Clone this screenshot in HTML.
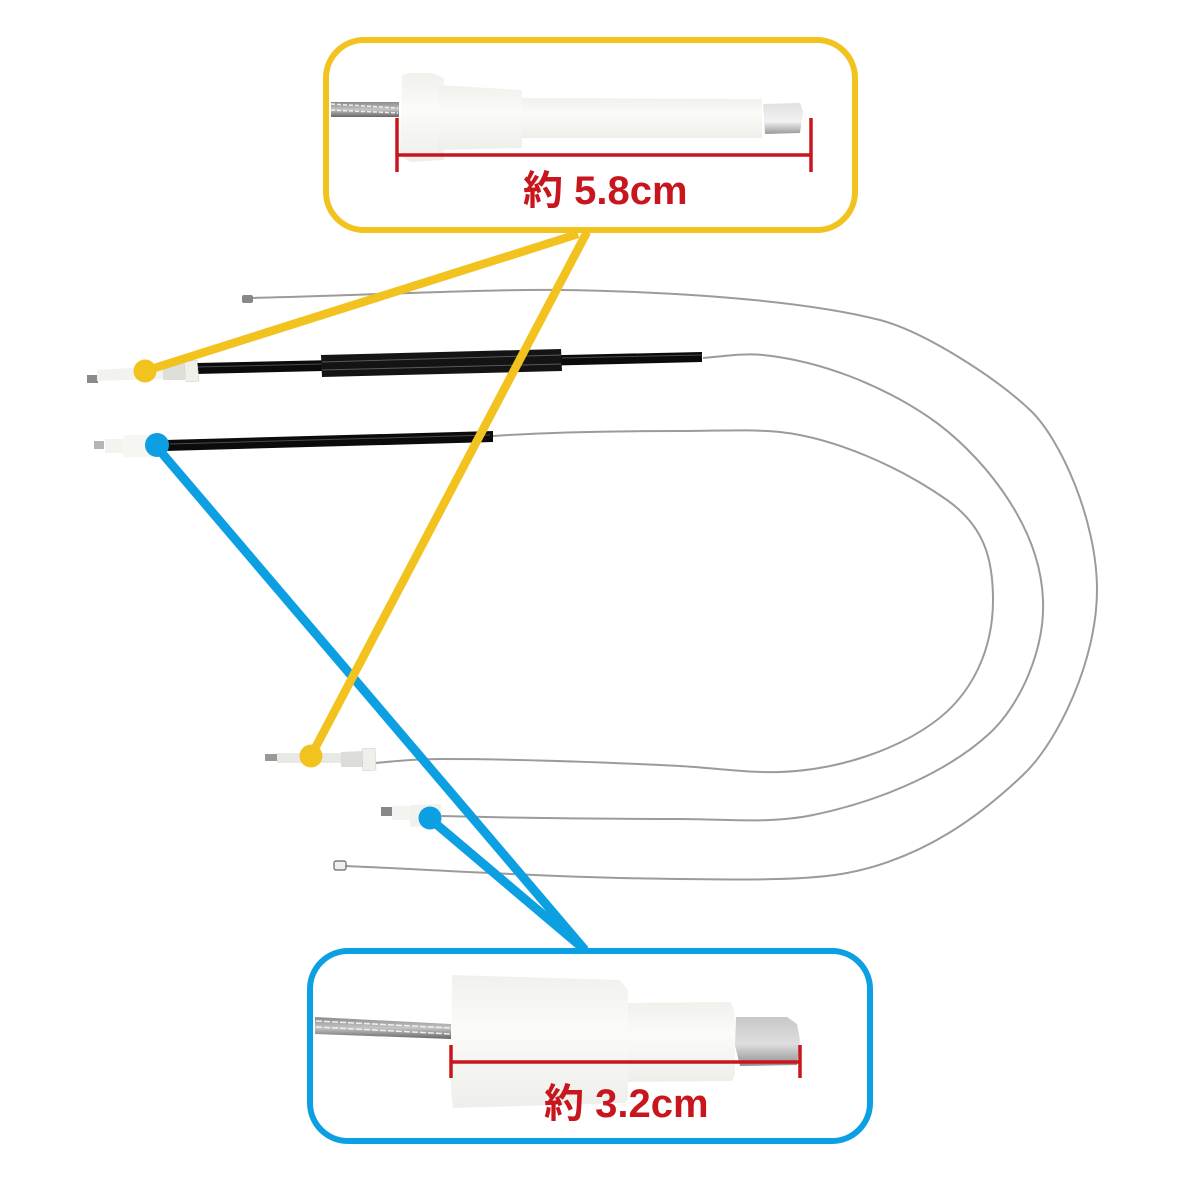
<!DOCTYPE html>
<html><head><meta charset="utf-8"><style>
html,body{margin:0;padding:0;background:#fff}
svg{display:block}
text{font-family:"Liberation Sans","Noto Sans CJK JP",sans-serif;font-weight:700;font-size:40px;fill:#c8161e}
</style></head><body>
<svg width="1182" height="1182" viewBox="0 0 1182 1182" xmlns="http://www.w3.org/2000/svg">
<defs>
<linearGradient id="w" x1="0" y1="0" x2="0" y2="1"><stop offset="0" stop-color="#f0f0ec"/><stop offset=".4" stop-color="#fbfbf8"/><stop offset="1" stop-color="#eeeeea"/></linearGradient>
<linearGradient id="n" x1="0" y1="0" x2="0" y2="1"><stop offset="0" stop-color="#c8c8c8"/><stop offset=".55" stop-color="#dedede"/><stop offset="1" stop-color="#8f8f8f"/></linearGradient>
<linearGradient id="n2" x1="0" y1="0" x2="0" y2="1"><stop offset="0" stop-color="#e0e0e0"/><stop offset=".6" stop-color="#f2f2f2"/><stop offset="1" stop-color="#999"/></linearGradient>
<linearGradient id="c" x1="0" y1="0" x2="0" y2="1"><stop offset="0" stop-color="#8a8a8a"/><stop offset=".5" stop-color="#c4c4c4"/><stop offset="1" stop-color="#666"/></linearGradient>
</defs>
<rect width="1182" height="1182" fill="#fff"/>

<!-- wires -->
<g fill="none" stroke="#9b9b9b" stroke-width="2">
<path d="M250 298 C350 296 480 289 560 290 C640 291 790 297 880 320 C925 332 995 377 1030 410 C1060 438 1097 520 1097 590 C1097 660 1058 742 1023 775 C982 814 925 858 847 873 C800 882 720 879 680 879 C560 878 440 870 345 866"/>
<path d="M703 358 C725 356 745 353 763 355 C820 361 880 384 930 418 C975 449 1040 520 1043 600 C1045 650 1020 705 990 733 C950 770 885 800 813 815 C770 824 720 819 680 819 C600 819 520 818 440 816"/>
<path d="M493 436 C550 432 620 431 680 431 C715 431 750 429 780 432 C835 438 900 467 947 500 C985 527 993 560 993 600 C993 650 972 695 933 723 C897 749 840 770 780 772 C745 773 715 768 680 766 C600 762 520 759 440 759 C415 759 395 761 376 763"/>
</g>

<!-- tube 1 -->
<path d="M196 363 L702 352 V362 L196 374 Z" fill="#0b0b0b"/>
<path d="M196 367 L322 364 M562 358 L702 355" stroke="#4a4a4a" stroke-width="1" fill="none"/>
<path d="M321 355 L561 349 L562 371 L322 377 Z" fill="#141414"/>
<path d="M322 362 L561 355 M322 370 L561 364" stroke="#5a5a5a" stroke-width="1" fill="none"/>
<!-- tube 2 -->
<path d="M165 440 L493 431 V442 L165 451 Z" fill="#0b0b0b"/>
<path d="M170 444 L490 435" stroke="#4a4a4a" stroke-width="1" fill="none"/>

<!-- connector 1 -->
<rect x="87" y="375" width="11" height="8" fill="#8a8a8a"/>
<path d="M97 370 L163 366 V379 L97 381 Z" fill="#f2f2ee"/>
<path d="M163 365 L185 363 V380 L163 380 Z" fill="#dfdfda"/>
<path d="M184 362 L197 360 L199 381 L186 382 Z" fill="#f0efea" stroke="#ccc" stroke-width=".5"/>
<!-- connector 2 -->
<rect x="94" y="441" width="10" height="8" fill="#b5b5b5"/>
<rect x="105" y="439" width="19" height="14" fill="#f3f3ef"/>
<rect x="123" y="435" width="30" height="22" rx="3" fill="#f6f6f2"/>
<!-- nut top -->
<rect x="242" y="295" width="11" height="8" rx="2" fill="#888"/>
<!-- connector 3 -->
<rect x="265" y="754" width="13" height="7" fill="#999"/>
<rect x="277" y="753" width="64" height="10" fill="#e8e8e4"/>
<path d="M341 752 L363 751 V767 L341 767 Z" fill="#dcdcd8"/>
<path d="M362 749 L375 748 L376 770 L363 771 Z" fill="#efefeb" stroke="#c8c8c8" stroke-width=".5"/>
<!-- connector 4 -->
<rect x="381" y="807" width="11" height="9" fill="#888"/>
<rect x="392" y="806" width="18" height="14" fill="#f3f3ef"/>
<path d="M410 805 L441 804 L442 826 L410 827 Z" fill="#f1f1ed"/>
<!-- nut bottom -->
<rect x="334" y="861" width="12" height="9" rx="2" fill="#efefef" stroke="#666" stroke-width="1.2"/>

<!-- blue connectors -->
<g fill="#0ca0e3" stroke="none">
<path d="M155 445 L585 950" stroke="#0ca0e3" stroke-width="9"/>
<path d="M429 818 L585 950" stroke="#0ca0e3" stroke-width="9"/>
<circle cx="157" cy="445" r="12"/>
<circle cx="430" cy="818" r="11.5"/>
</g>
<!-- yellow connectors -->
<g fill="#f2c21f">
<path d="M145 371 L578 234" stroke="#f2c21f" stroke-width="8.5"/>
<path d="M311 756 L587 232" stroke="#f2c21f" stroke-width="8.5"/>
<circle cx="145" cy="371" r="11.5"/>
<circle cx="311" cy="756" r="11.5"/>
</g>

<!-- yellow box -->
<rect x="326" y="40" width="529" height="190" rx="38" fill="#fff" stroke="#f2c21f" stroke-width="6"/>
<rect x="331" y="102" width="68" height="15" fill="url(#c)"/>
<path d="M331 104 L398 108 M331 110 L398 113" stroke="#eee" stroke-width="1.5" stroke-dasharray="4 2" fill="none"/>
<path d="M763 104 L800 103 L803 112 L800 133 L765 134 Z" fill="url(#n2)"/>
<path d="M522 98 L762 99 V138 L522 138 Z" fill="url(#w)"/>
<path d="M438 85 L521 90 Q522 90 522 92 V148 L438 150 Z" fill="url(#w)"/>
<path d="M402 76 Q406 73 412 73 H432 L444 78 V85 L438 85 V150 L444 150 V160 L412 162 Q402 160 400 150 Z" fill="url(#w)"/>
<path d="M397 155 H811" stroke="#c8161e" stroke-width="3.5" fill="none"/>
<path d="M397 118 V172 M811 118 V172" stroke="#c8161e" stroke-width="3.5" fill="none"/>
<text x="523" y="204">約 5.8cm</text>

<!-- blue box -->
<rect x="310" y="951" width="560" height="190" rx="38" fill="#fff" stroke="#0ca0e3" stroke-width="6"/>
<path d="M315 1017 L451 1024 V1039 L315 1034 Z" fill="url(#c)"/>
<path d="M316 1021 L451 1028 M316 1027 L451 1034" stroke="#eee" stroke-width="1.5" stroke-dasharray="6 2" fill="none"/>
<path d="M736 1017 L787 1017 L797 1024 L800 1040 L797 1065 L740 1066 L735 1045 Z" fill="url(#n)"/>
<path d="M628 1003 L731 1002 L735 1015 V1075 L732 1081 L628 1082 Z" fill="url(#w)"/>
<path d="M452 975 L620 980 L628 990 V1098 L625 1103 L453 1108 L451 1090 Z" fill="url(#w)"/>
<path d="M451 1062 H800" stroke="#c8161e" stroke-width="3.5" fill="none"/>
<path d="M451 1045 V1078 M800 1045 V1078" stroke="#c8161e" stroke-width="3.5" fill="none"/>
<text x="544" y="1117">約 3.2cm</text>
</svg>
</body></html>
